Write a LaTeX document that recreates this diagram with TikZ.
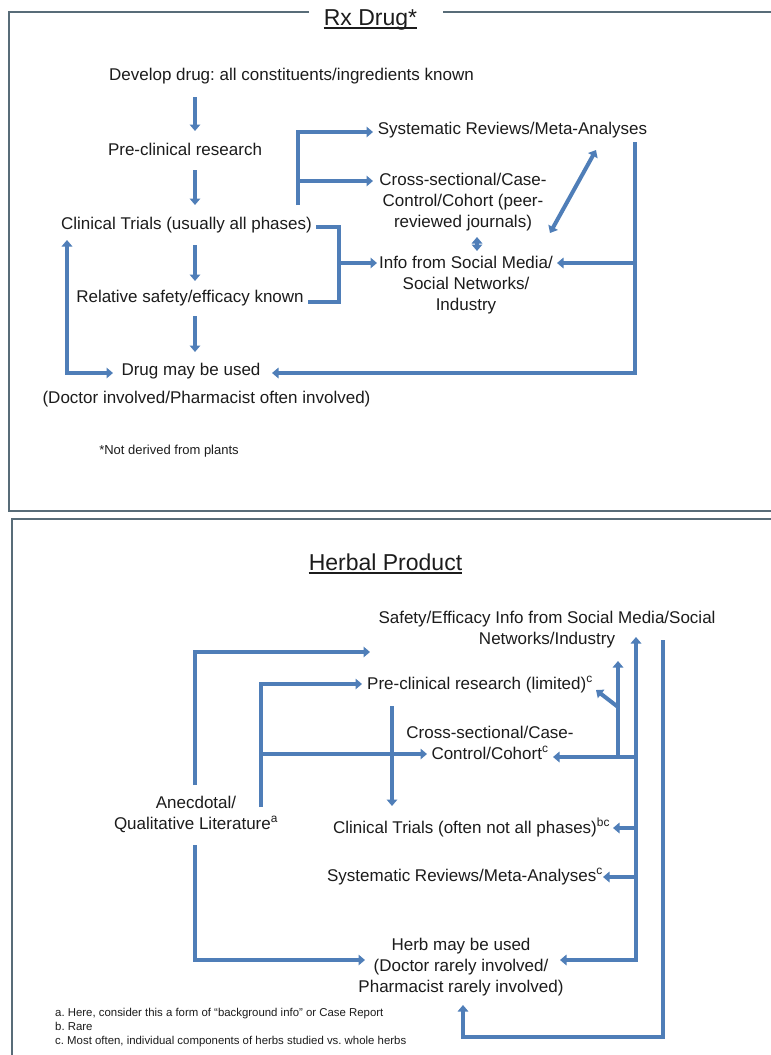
\documentclass[tikz,border=0pt]{standalone}
\usepackage{fontspec}
\setmainfont{Liberation Sans}
\usetikzlibrary{arrows.meta}
\definecolor{flow}{RGB}{79,126,184}
\definecolor{rulecol}{RGB}{88,108,120}
\definecolor{ink}{RGB}{28,28,28}
\frenchspacing
\tikzset{
  txt/.style={font=\fontsize{17}{21}\selectfont, inner sep=0pt, anchor=base, text=ink},
  mtxt/.style={font=\fontsize{17}{21}\selectfont, inner sep=0pt, align=center, anchor=north, text=ink},
  ttl/.style={font=\fontsize{23}{27}\selectfont, inner sep=0pt, anchor=base, text=ink},
  notefont/.style={font=\fontsize{13}{15}\selectfont, inner sep=0pt, anchor=base, text=ink},
  fn/.style={font=\fontsize{11.4}{14}\selectfont, inner sep=0pt, anchor=base west, text=ink},
  flowline/.style={draw=flow, line width=4pt},
  tipshape/.tip={Triangle[length=6.5pt,width=10.5pt]},
  flowarrow/.style={flowline, -tipshape},
  flowboth/.style={flowline, tipshape-tipshape},
  panelrule/.style={draw=rulecol, line width=1.6pt}
}
\begin{document}
\begin{tikzpicture}[x=1pt,y=-1pt]
\useasboundingbox (0,0) rectangle (771,1055);
\fill[white] (0,0) rectangle (771,1055);

% ---------- panel outlines ----------
\draw[panelrule] (309,12) -- (9,12) -- (9,511) -- (771,511);
\draw[panelrule] (443,12) -- (771,12);
\draw[panelrule] (771,519) -- (12,519) -- (12,1055);

% ---------- titles ----------
\node[ttl] (rx) at (370.5,25) {Rx Drug*};
\draw[ink, line width=1.3pt] ([yshift=-3pt]rx.base west) -- ([yshift=-3pt]rx.base east);
\node[ttl] (hp) at (385.5,570) {Herbal Product};
\draw[ink, line width=1.3pt] ([yshift=-3pt]hp.base west) -- ([yshift=-3pt]hp.base east);

% ---------- prescription drug path ----------
\node[txt] (dev) at (291.5,80) {Develop drug: all constituents/ingredients known};
\node[txt] (pre) at (185,155) {Pre-clinical research};
\node[txt] (ct) at (186.5,229) {Clinical Trials (usually all phases)};
\node[txt] (rel) at (190,302) {Relative safety/efficacy known};
\node[txt] (use) at (191,375) {Drug may be used};
\node[txt] (doc) at (206.5,403) {(Doctor involved/Pharmacist often involved)};
\node[notefont] (nd) at (169,454) {*Not derived from plants};
\node[txt] (sys) at (512.5,134) {Systematic Reviews/Meta-Analyses};
\node[mtxt] (cs) at (463,172.5) {Cross-sectional/Case-\\Control/Cohort (peer-\\reviewed journals)};
\node[mtxt] (info) at (466,255.5) {Info from Social Media/\\Social Networks/\\Industry};

% connector points
\coordinate (a1s) at (195,97);  \coordinate (a1e) at (195,131);
\coordinate (a2s) at (195,170); \coordinate (a2e) at (195,205);
\coordinate (a3s) at (195,245); \coordinate (a3e) at (195,281);
\coordinate (a4s) at (195,316); \coordinate (a4e) at (195,352);
\coordinate (b1top) at (298,132); \coordinate (b1bot) at (298,205);
\coordinate (b1mid) at (298,181);
\coordinate (sysin) at (373,132); \coordinate (csin) at (373,181);
\coordinate (ctout) at (316,227); \coordinate (b2a) at (339,227);
\coordinate (b2b) at (339,302); \coordinate (relout) at (308,302);
\coordinate (b2m) at (339,263); \coordinate (infoin) at (377,263);
\coordinate (csbot) at (477,237); \coordinate (infotop) at (477,251);
\coordinate (diaglo) at (550,233); \coordinate (diaghi) at (596,150);
\coordinate (rtop) at (635,142); \coordinate (rmid) at (635,263);
\coordinate (rbot) at (635,373); \coordinate (infoout) at (557,263);
\coordinate (usein) at (272,373);
\coordinate (lup) at (67,240); \coordinate (lcorner) at (67,373);
\coordinate (luse) at (113,373);

\draw[flowarrow] (a1s) -- (a1e);
\draw[flowarrow] (a2s) -- (a2e);
\draw[flowarrow] (a3s) -- (a3e);
\draw[flowarrow] (a4s) -- (a4e);
\draw[flowarrow] (b1bot) -- (b1top) -- (sysin);
\draw[flowarrow] (b1mid) -- (csin);
\draw[flowline] (ctout) -- (b2a) -- (b2b) -- (relout);
\draw[flowarrow] (b2m) -- (infoin);
\draw[flowboth] (csbot) -- (infotop);
\draw[flowboth] (diaglo) -- (diaghi);
\draw[flowarrow] (rtop) -- (rbot) -- (usein);
\draw[flowarrow] (rmid) -- (infoout);
\draw[flowboth] (lup) -- (lcorner) -- (luse);

% ---------- herbal product path ----------
\node[mtxt] (safe) at (547,610.5) {Safety/Efficacy Info from Social Media/Social\\Networks/Industry};
\node[txt] (pc) at (480,689) {Pre-clinical research (limited)\textsuperscript{c}};
\node[mtxt] (cs2) at (490,725.5) {Cross-sectional/Case-\\Control/Cohort\textsuperscript{c}};
\node[txt] (ct2) at (471.5,833) {Clinical Trials (often not all phases)\textsuperscript{bc}};
\node[txt] (sr2) at (465,881) {Systematic Reviews/Meta-Analyses\textsuperscript{c}};
\node[mtxt] (anec) at (196,795.5) {Anecdotal/\\Qualitative Literature\textsuperscript{a}};
\node[mtxt] (herb) at (461,937.5) {Herb may be used\\(Doctor rarely involved/\\Pharmacist rarely involved)};

\node[fn] (fa) at (55,1016) {a. Here, consider this a form of “background info” or Case Report};
\node[fn] (fb) at (55,1030) {b. Rare};
\node[fn] (fc) at (55,1044) {c. Most often, individual components of herbs studied vs. whole herbs};

% connector points
\coordinate (p1bot) at (195,785); \coordinate (p1top) at (195,652);
\coordinate (safein) at (370,652);
\coordinate (p2bot) at (261,807); \coordinate (p2top) at (261,684);
\coordinate (pcin) at (362,684);
\coordinate (p2mid) at (261,754); \coordinate (cs2in) at (427,754);
\coordinate (vtop) at (392,706); \coordinate (ct2in) at (392,806);
\coordinate (anbot) at (195,845); \coordinate (ancorner) at (195,960);
\coordinate (herbin) at (365,960);
\coordinate (r1top) at (636,637); \coordinate (r1bot) at (636,960);
\coordinate (herbinr) at (560,960);
\coordinate (r1a) at (636,757); \coordinate (cs2out) at (553,757);
\coordinate (r1b) at (636,828); \coordinate (ct2out) at (613,828);
\coordinate (r1c) at (636,877); \coordinate (sr2out) at (603,877);
\coordinate (sbot) at (618,757); \coordinate (stop) at (618,661);
\coordinate (sdiag) at (618,707); \coordinate (pcout) at (596,690);
\coordinate (r2top) at (663,640); \coordinate (r2bot) at (663,1037);
\coordinate (r2left) at (463,1037); \coordinate (herbbot) at (463,1005);

\draw[flowarrow] (p1bot) -- (p1top) -- (safein);
\draw[flowarrow] (p2bot) -- (p2top) -- (pcin);
\draw[flowarrow] (p2mid) -- (cs2in);
\draw[flowarrow] (vtop) -- (ct2in);
\draw[flowarrow] (anbot) -- (ancorner) -- (herbin);
\draw[flowboth] (r1top) -- (r1bot) -- (herbinr);
\draw[flowarrow] (r1a) -- (cs2out);
\draw[flowarrow] (r1b) -- (ct2out);
\draw[flowarrow] (r1c) -- (sr2out);
\draw[flowarrow] (sbot) -- (stop);
\draw[flowarrow] (sdiag) -- (pcout);
\draw[flowarrow] (r2top) -- (r2bot) -- (r2left) -- (herbbot);
\end{tikzpicture}
\end{document}
